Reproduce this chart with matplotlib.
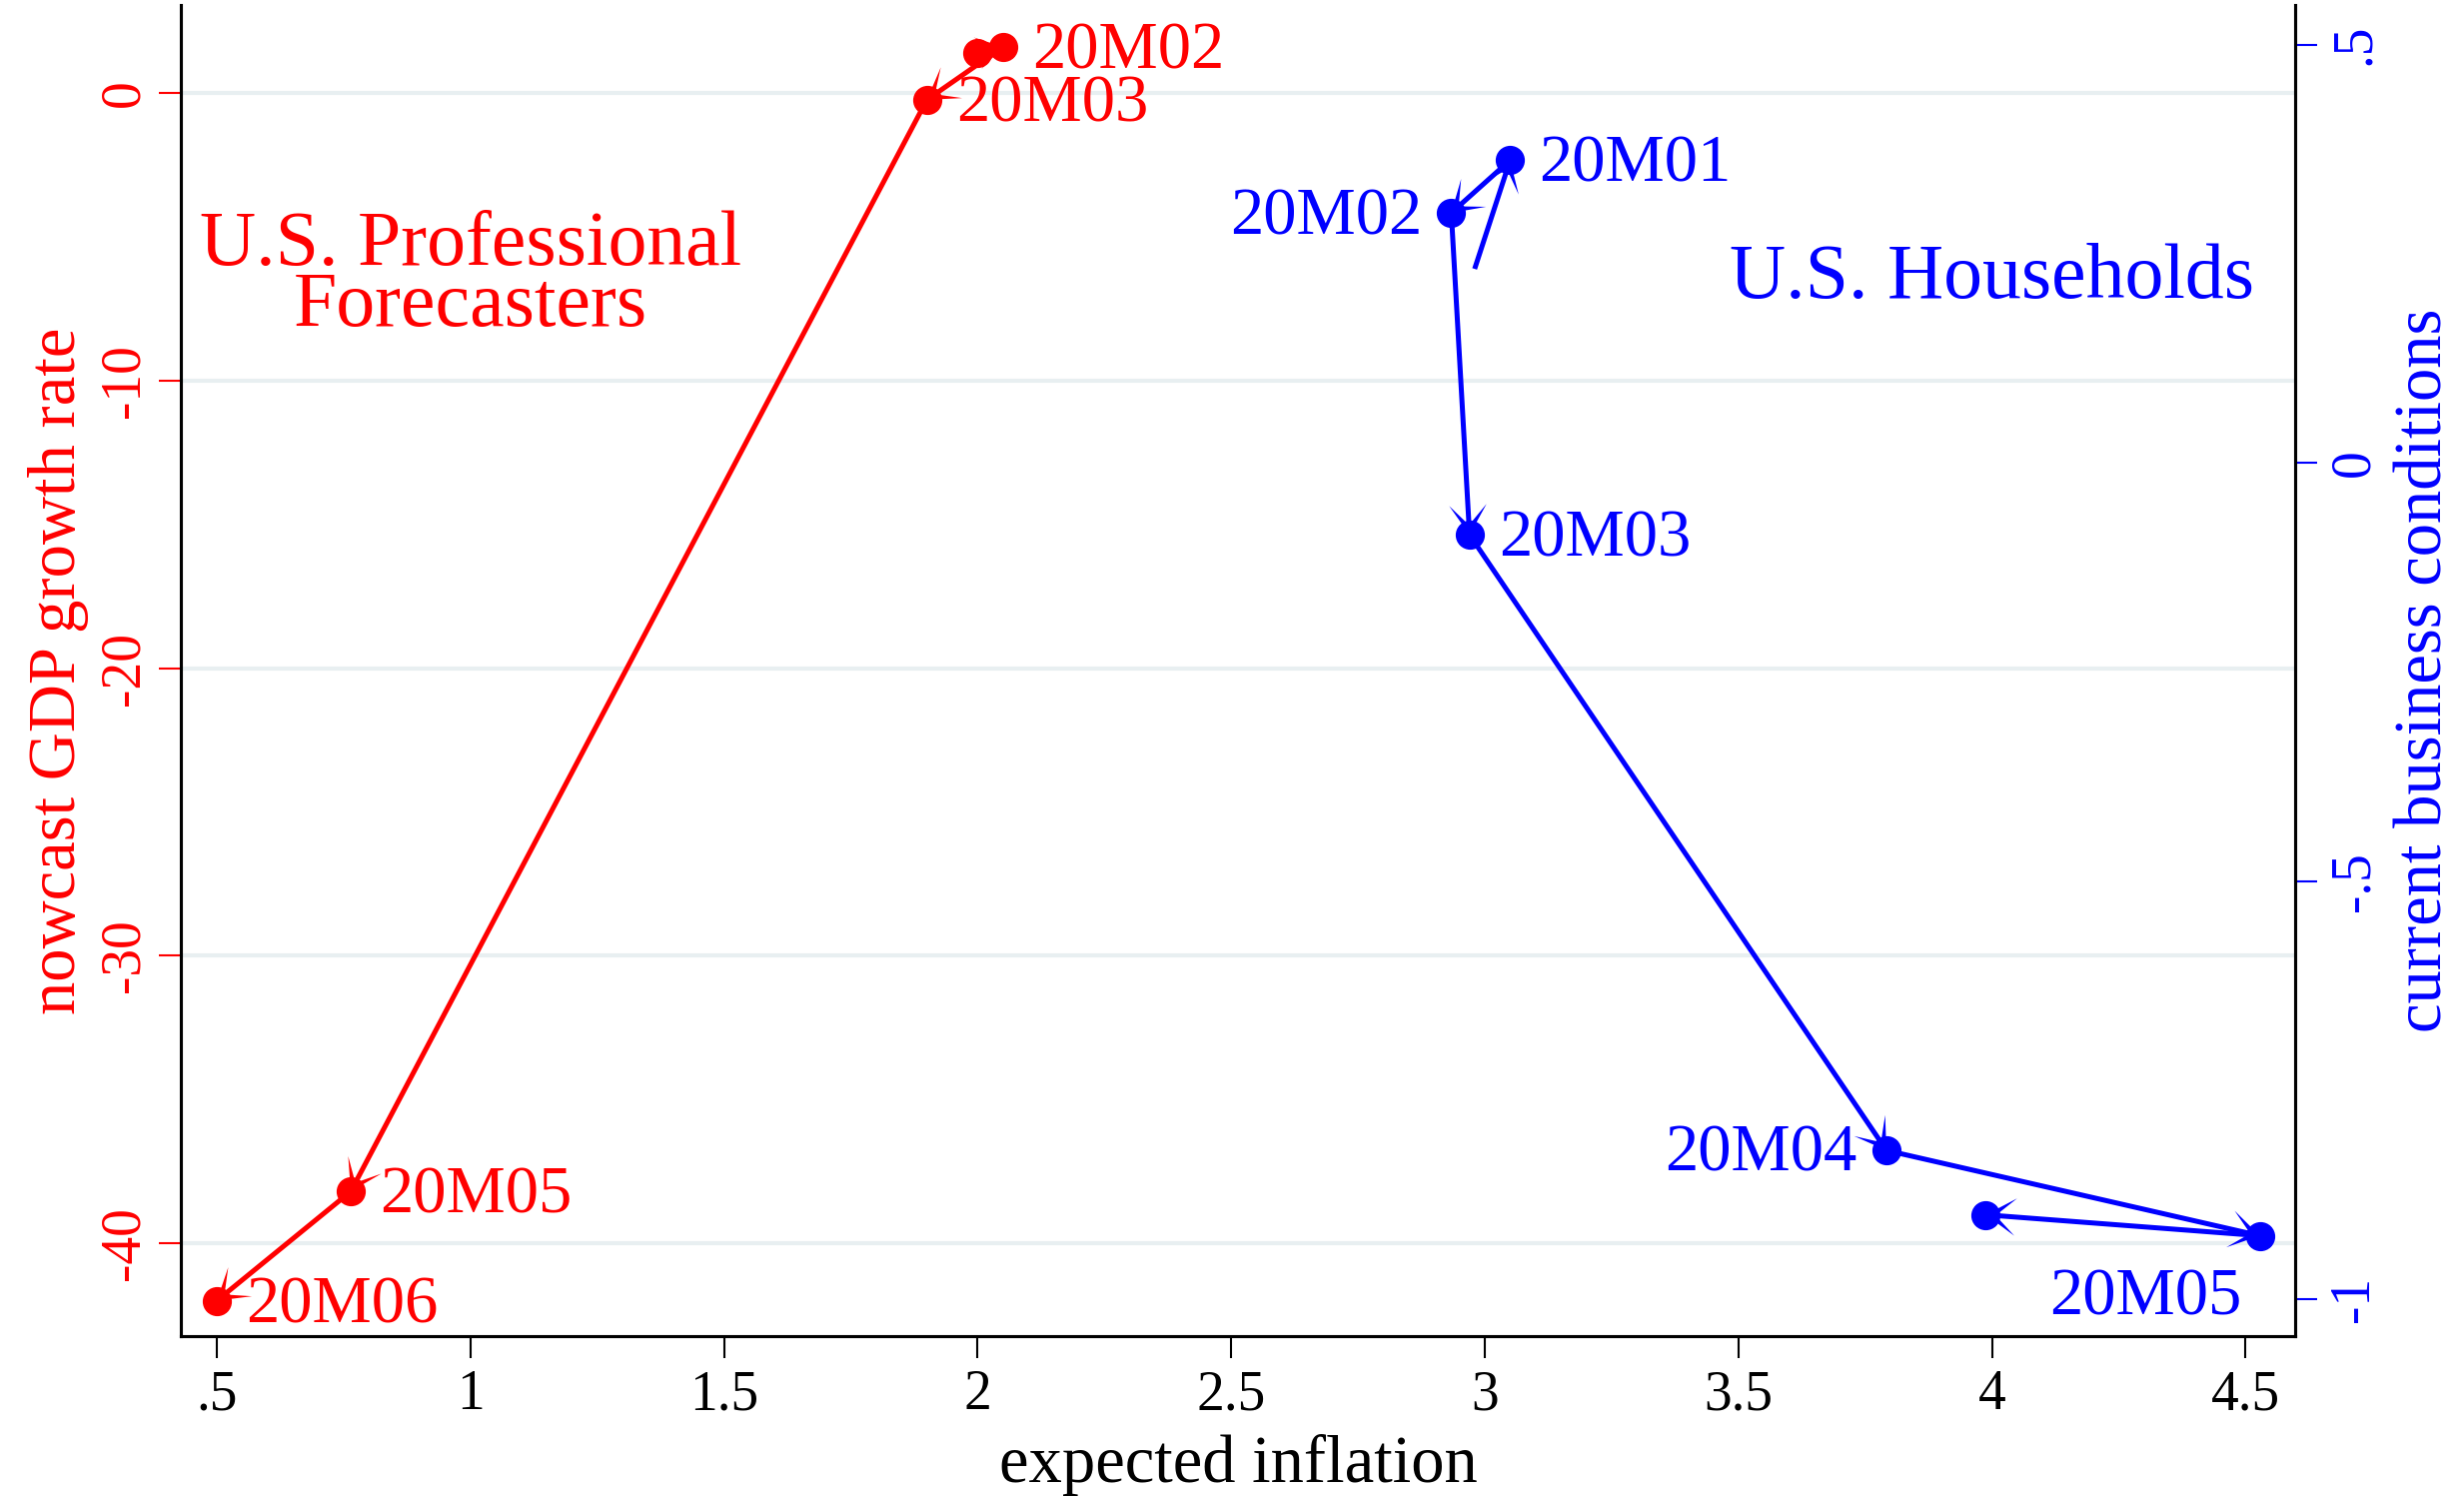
import matplotlib
matplotlib.use('Agg')
import matplotlib.pyplot as plt
import numpy as np

plt.rcParams['font.family'] = ['Liberation Serif', 'DejaVu Serif']
plt.rcParams['axes.unicode_minus'] = False

# U.S. professional forecasters (left axis)
red_x = [2.00, 2.05, 1.90, 0.764, 0.50]
red_y = [1.39, 1.61, -0.23, -38.2, -42.0]
red_lab = ['', '20M02', '20M03', '20M05', '20M06']

# U.S. households (right axis); first point is the tail of the arrow into 20M01
blue_x = [2.98, 3.05, 2.934, 2.97, 3.792, 4.528, 3.988]
blue_y = [0.232, 0.362, 0.299, -0.086, -0.822, -0.924, -0.899]
blue_lab = ['', '20M01', '20M02', '20M03', '20M04', '20M05', '']

xticks = [.5, 1, 1.5, 2, 2.5, 3, 3.5, 4, 4.5]
xticklabels = ['.5', '1', '1.5', '2', '2.5', '3', '3.5', '4', '4.5']
lticks = [0, -10, -20, -30, -40]
lticklabels = ['0', '-10', '-20', '-30', '-40']
rticks = [.5, 0, -.5, -1]
rticklabels = ['.5', '0', '-.5', '-1']

red = '#FF0000'
blue = '#0000FF'

fig = plt.figure(figsize=[24.66, 15], dpi=100)
ax = fig.add_axes([0.0734, 0.1087, 0.8581, 0.888])
ax2 = ax.twinx()

arrow_kw = dict(angles='xy', scale_units='xy', scale=1, units='dots', width=5,
                headwidth=7.5, headlength=6, headaxislength=2.5, zorder=3)

rx, ry = np.array(red_x), np.array(red_y)
ax.quiver(rx[:-1], ry[:-1], np.diff(rx), np.diff(ry), color=red, **arrow_kw)
ax.plot(rx, ry, 'o', color=red, markersize=20, zorder=4)

bx, by = np.array(blue_x), np.array(blue_y)
ax2.quiver(bx[:-1], by[:-1], np.diff(bx), np.diff(by), color=blue, **arrow_kw)
ax2.plot(bx[1:], by[1:], 'o', color=blue, markersize=20, zorder=4)

for x, y, s in zip(red_x, red_y, red_lab):
    if s:
        ax.annotate(s, (x, y), xytext=(29, -5), textcoords='offset pixels',
                    ha='left', va='center', color=red, fontsize=48, zorder=5)

blue_off = {'20M01': (29, -5, 'left'), '20M02': (-29, -5, 'right'),
            '20M03': (29, -5, 'left'), '20M04': (-30, -4, 'right'),
            '20M05': (-18, -62, 'right')}
for x, y, s in zip(blue_x, blue_y, blue_lab):
    if s:
        dx, dy, ha = blue_off[s]
        ax2.annotate(s, (x, y), xytext=(dx, dy), textcoords='offset pixels',
                     ha=ha, va='center', color=blue, fontsize=48, zorder=5)

ax.text(1.0, -8.09, 'U.S. Professional\nForecasters', ha='center', va='baseline',
        color=red, fontsize=56, linespacing=0.8)
ax2.text(4.0, 0.197, 'U.S. Households', ha='center', va='baseline',
         color=blue, fontsize=56)

ax.set_xlim(0.429, 4.598)
ax.set_ylim(-43.23, 3.07)
ax2.set_ylim(-1.044, 0.5476)

ax.set_xticks(xticks)
ax.set_xticklabels(xticklabels)
ax.set_yticks(lticks)
ax.set_yticklabels(lticklabels)
ax2.set_yticks(rticks)
ax2.set_yticklabels(rticklabels)

ax.yaxis.grid(True, color='#E8EFF1', linewidth=3)
ax.set_axisbelow(True)

ax.tick_params(axis='x', length=16, width=1.5, pad=8, labelsize=40)
ax.tick_params(axis='y', length=16, width=1.5, pad=6, labelsize=40,
               colors=red, labelrotation=90)
ax2.tick_params(axis='y', length=16, width=1.5, pad=8, labelsize=40,
                colors=blue, labelrotation=90)
for t in ax.get_yticklabels() + ax2.get_yticklabels():
    t.set_va('center')

for a in (ax, ax2):
    a.spines['top'].set_visible(False)
    for s in ('left', 'right', 'bottom'):
        a.spines[s].set_linewidth(2.2)
        a.spines[s].set_color('black')

ax.set_xlabel('expected inflation', fontsize=48, va='center')
ax.xaxis.set_label_coords(0.5, -0.0968)
ax.set_ylabel('nowcast GDP growth rate', fontsize=48, color=red, va='center', ha='center')
ax.yaxis.set_label_coords(-0.0581, 0.5)
ax2.set_ylabel('current business conditions', fontsize=48, color=blue,
               rotation=90, va='center', ha='center')
ax2.yaxis.set_label_coords(1.0614, 0.5)

plt.savefig('out.png', dpi=100)
